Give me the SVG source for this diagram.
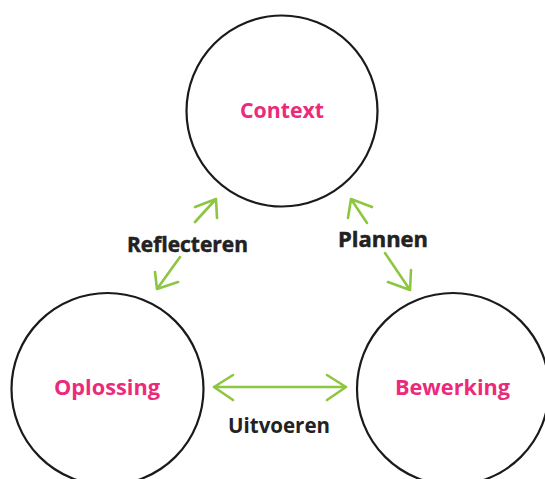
<svg xmlns="http://www.w3.org/2000/svg" width="545" height="479" viewBox="0 0 545 479">
<style>
.node{fill:#fff;stroke:#1a1a1a;stroke-width:2.2}
.nt{font-family:"Open Sans","Liberation Sans",sans-serif;font-weight:bold;font-size:21px;fill:#EC2A7B;text-anchor:middle}
.lbl{font-family:"Open Sans","Liberation Sans",sans-serif;font-weight:bold;font-size:21px;fill:#222;text-anchor:middle}
.heavy{font-size:22px;stroke:#222;stroke-width:0.5}
.ar{fill:none;stroke:#8DC641;stroke-width:2.6;stroke-linecap:round;stroke-linejoin:round}
</style>
<rect width="545" height="479" fill="#fff"/>
<g id="context"><circle class="node" cx="282" cy="111" r="95.5"/><text class="nt" x="282" y="118" textLength="84" lengthAdjust="spacingAndGlyphs">Context</text></g>
<g id="oplossing"><circle class="node" cx="107.5" cy="389" r="96"/><text class="nt" x="107" y="395" textLength="106" lengthAdjust="spacingAndGlyphs">Oplossing</text></g>
<g id="bewerking"><circle class="node" cx="453" cy="389" r="96"/><text class="nt" x="452.5" y="395" textLength="115" lengthAdjust="spacingAndGlyphs">Bewerking</text></g>
<g id="connectors">
<path class="ar" d="M216,199 L195,222 M180,257 L157,289 M195,207 L216,199 L217,218 M155,272 L157,289 L178,282"/>
<path class="ar" d="M351,199 L367,223 M385,253 L410,290 M372,207 L351,199 L348,218 M388,282 L410,290 L411,270"/>
<path class="ar" d="M214,387 L346,387 M233,375 L214,387 L233,400 M327,375 L346,387 L327,400"/>
</g>
<g id="labels">
<text class="lbl heavy" x="187.5" y="252" textLength="121" lengthAdjust="spacingAndGlyphs">Reflecteren</text>
<text class="lbl heavy" x="383" y="247" textLength="90" lengthAdjust="spacingAndGlyphs">Plannen</text>
<text class="lbl" x="279" y="433" font-size="19" textLength="102" lengthAdjust="spacingAndGlyphs">Uitvoeren</text>
</g>
</svg>
